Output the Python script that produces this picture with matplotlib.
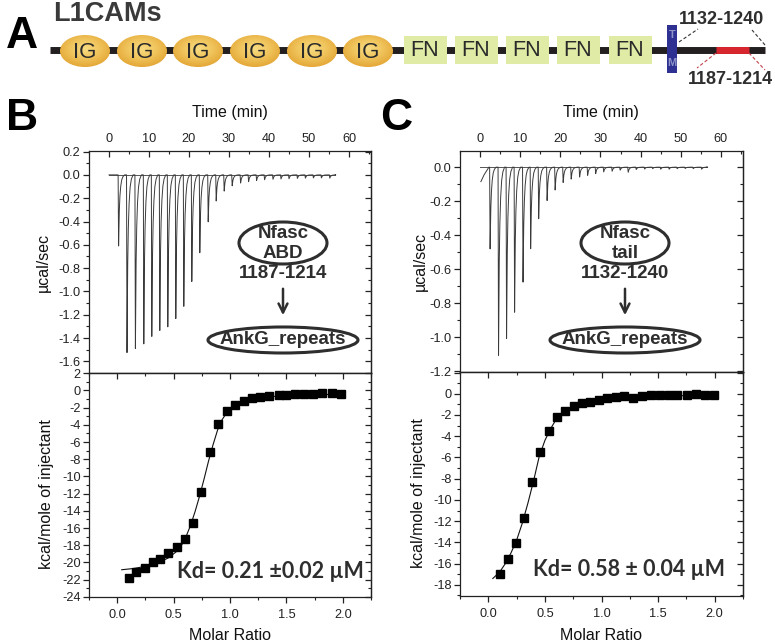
import numpy as np
import matplotlib
matplotlib.use('Agg')
import matplotlib.pyplot as plt
from matplotlib.patches import Ellipse, Rectangle
from matplotlib.ticker import MultipleLocator, FuncFormatter
from matplotlib.colors import LinearSegmentedColormap

plt.rcParams['font.family'] = ['Liberation Sans', 'DejaVu Sans']
plt.rcParams['axes.unicode_minus'] = False

# ---------------- DATA ----------------
# Panel B raw thermogram: injection times (min) and peak minima (ucal/sec)
b_inj_time = [2.4, 4.5, 6.6, 8.7, 10.7, 12.7, 14.7, 16.7, 18.7, 20.7, 22.7, 24.8, 26.8,
              28.8, 30.8, 32.9, 34.9, 36.9, 38.9, 41.0, 43.0, 45.0, 47.1, 49.1, 51.1, 53.1, 55.2]
b_inj_depth = [-0.61, -1.525, -1.49, -1.45, -1.386, -1.335, -1.304, -1.233, -1.128, -0.915,
               -0.668, -0.403, -0.224, -0.139, -0.094, -0.07, -0.058, -0.048, -0.042, -0.038,
               -0.035, -0.033, -0.03, -0.028, -0.026, -0.026, -0.028]
b_trace_start = [0.0]
b_trace_start_y = [0.0]
b_trace_end = 56.6

# Panel C raw thermogram
c_inj_time = [2.5, 4.6, 6.6, 8.6, 10.7, 12.6, 14.6, 16.7, 18.7, 20.7, 22.7, 24.8, 26.8,
              28.8, 30.8, 32.9, 34.9, 36.9, 38.9, 41.0, 43.0, 45.0, 47.1, 49.1, 51.1, 53.1, 55.2]
c_inj_depth = [-0.48, -1.105, -1.006, -0.852, -0.675, -0.479, -0.303, -0.196, -0.134, -0.09,
               -0.07, -0.058, -0.048, -0.038, -0.028, -0.024, -0.018, -0.03, -0.014, -0.011,
               -0.009, -0.012, -0.012, -0.009, -0.008, -0.009, -0.012]
c_trace_start = [0.2, 1.0, 2.2]
c_trace_start_y = [-0.085, -0.045, 0.0]
c_trace_end = 56.4

# shape of one injection peak: time offset (min) vs fraction of depth
peak_rel_t = [-0.12, 0.0, 0.08, 0.18, 0.33, 0.53, 0.78, 1.08, 1.5]
peak_frac = [0.0, 1.0, 0.75, 0.5, 0.3, 0.16, 0.07, 0.025, 0.0]

# Panel B isotherm
b_ratio = [0.103, 0.171, 0.245, 0.313, 0.378, 0.449, 0.529, 0.603, 0.674, 0.747, 0.824, 0.895,
           0.972, 1.046, 1.12, 1.196, 1.27, 1.35, 1.43, 1.50, 1.58, 1.66, 1.74, 1.82, 1.90, 1.98]
b_heat = [-21.86, -21.1, -20.7, -20.0, -19.6, -18.9, -18.2, -17.3, -15.4, -11.8, -7.2, -3.9,
          -2.4, -1.7, -1.2, -0.93, -0.74, -0.62, -0.55, -0.5, -0.47, -0.43, -0.39, -0.35, -0.35, -0.39]
b_fit_x = [0.04, 0.15, 0.25, 0.35, 0.45, 0.52, 0.57, 0.61, 0.65, 0.69, 0.73, 0.77, 0.81, 0.85,
           0.89, 0.93, 0.97, 1.02, 1.08, 1.15, 1.25, 1.4, 1.6, 1.8, 2.0]
b_fit_y = [-20.85, -20.7, -20.45, -20.1, -19.5, -18.8, -18.0, -17.0, -15.7, -14.1, -12.3, -10.3,
           -8.2, -6.3, -4.6, -3.4, -2.6, -2.0, -1.55, -1.2, -0.9, -0.68, -0.55, -0.48, -0.43]

# Panel C isotherm
c_ratio = [0.104, 0.175, 0.246, 0.317, 0.388, 0.459, 0.533, 0.604, 0.679, 0.753, 0.827, 0.901,
           0.975, 1.049, 1.126, 1.2, 1.28, 1.357, 1.434, 1.514, 1.594, 1.671, 1.751, 1.831, 1.911, 1.991]
c_heat = [-17.0, -15.58, -14.1, -11.69, -8.33, -5.47, -3.52, -2.23, -1.63, -1.13, -0.91, -0.75,
          -0.6, -0.41, -0.35, -0.25, -0.44, -0.19, -0.13, -0.09, -0.16, -0.16, -0.09, -0.06, -0.09, -0.16]
c_fit_x = [0.04, 0.1, 0.15, 0.2, 0.25, 0.3, 0.35, 0.4, 0.45, 0.5, 0.55, 0.6, 0.65, 0.7, 0.8,
           0.9, 1.0, 1.1, 1.25, 1.4, 1.6, 1.8, 2.0]
c_fit_y = [-17.4, -16.8, -16.0, -15.0, -13.8, -12.2, -10.3, -8.2, -5.9, -4.4, -3.3, -2.4, -1.85,
           -1.45, -1.0, -0.75, -0.58, -0.46, -0.35, -0.27, -0.2, -0.16, -0.13]

# Domain diagram labels
ig_labels = ['IG'] * 6
fn_labels = ['FN'] * 5

# ---------------- LAYOUT ----------------
W, H = 775, 643
fig = plt.figure(figsize=(W / 100, H / 100), dpi=100)


def rect(l, t, r, b):
    return [l / W, 1 - b / H, (r - l) / W, (b - t) / H]


axBt = fig.add_axes(rect(89, 151, 371, 373))
axBb = fig.add_axes(rect(89, 373, 371, 597))
axCt = fig.add_axes(rect(460, 151, 743, 372))
axCb = fig.add_axes(rect(460, 372, 743, 596))

TICKC = '#222222'
SPC = '#222222'


def fmt(d, vmax=None):
    def f(v, p):
        if vmax is not None and v > vmax + 1e-9:
            return ''
        return ('%.' + str(d) + 'f') % (0.0 if abs(v) < 1e-9 else v)
    return FuncFormatter(f)


def style(ax, xlim, ylim, xmaj, xmin, ymaj, ymin, xdec, ydec, top, ymaxlab=None):
    ax.set_xlim(*xlim)
    ax.set_ylim(*ylim)
    for s in ax.spines.values():
        s.set_linewidth(0.9)
        s.set_color(SPC)
    ax.xaxis.set_major_locator(MultipleLocator(xmaj))
    ax.xaxis.set_minor_locator(MultipleLocator(xmin))
    ax.yaxis.set_major_locator(MultipleLocator(ymaj))
    ax.yaxis.set_minor_locator(MultipleLocator(ymin))
    ax.xaxis.set_major_formatter(fmt(xdec))
    ax.yaxis.set_major_formatter(fmt(ydec, ymaxlab))
    ax.tick_params(axis='both', which='both', labelsize=9.2, labelcolor=TICKC, color=SPC)
    ax.tick_params(axis='y', which='both', left=True, right=False, direction='out', pad=1.5)
    ax.tick_params(axis='y', which='major', length=4.5, width=0.9)
    ax.tick_params(axis='y', which='minor', length=2.5, width=0.8)
    sy = ax.secondary_yaxis('right')
    sy.yaxis.set_major_locator(MultipleLocator(ymaj))
    sy.yaxis.set_minor_locator(MultipleLocator(ymin))
    sy.tick_params(which='both', direction='in', labelright=False, color=SPC)
    sy.tick_params(which='major', length=4, width=0.9)
    sy.tick_params(which='minor', length=2.2, width=0.8)
    sy.spines['right'].set_linewidth(0.9)
    sy.spines['right'].set_color(SPC)
    if top:
        ax.tick_params(axis='x', which='both', top=True, bottom=False, labeltop=True,
                       labelbottom=False, direction='in', pad=4)
        ax.tick_params(axis='x', which='major', length=4.5, width=0.9)
        ax.tick_params(axis='x', which='minor', length=2.5, width=0.8)
    else:
        ax.tick_params(axis='x', which='both', top=False, bottom=True, direction='out', pad=4)
        ax.tick_params(axis='x', which='major', length=4.5, width=0.9)
        ax.tick_params(axis='x', which='minor', length=2.5, width=0.8)
        sx = ax.secondary_xaxis('top')
        sx.xaxis.set_major_locator(MultipleLocator(xmaj))
        sx.xaxis.set_minor_locator(MultipleLocator(xmin))
        sx.tick_params(which='both', direction='in', labeltop=False, color=SPC)
        sx.tick_params(which='major', length=4.5, width=0.9)
        sx.tick_params(which='minor', length=2.5, width=0.8)
        sx.spines['top'].set_linewidth(0.9)
        sx.spines['top'].set_color(SPC)


def build_trace(t0, y0, times, depths, t_end):
    tx = list(t0)
    ty = list(y0)
    for t, d in zip(times, depths):
        for rt, f in zip(peak_rel_t, peak_frac):
            tx.append(t + rt)
            ty.append(d * f)
    tx.append(t_end)
    ty.append(0.0)
    return tx, ty


# Panel B top
style(axBt, (-5, 65.5), (-1.7, 0.205), 10, 5, 0.2, 0.1, 0, 1, True)
tx, ty = build_trace(b_trace_start, b_trace_start_y, b_inj_time, b_inj_depth, b_trace_end)
axBt.plot([0, b_trace_end], [0, 0], color='#555555', lw=0.7)
axBt.plot(tx, ty, color='#3a3a3a', lw=0.7)

# Panel B bottom
style(axBb, (-0.25, 2.25), (-24.02, 2.03), 0.5, 0.25, 2, 1, 1, 0, False)
axBb.plot(b_fit_x, b_fit_y, color='#111111', lw=0.8)
axBb.plot(b_ratio, b_heat, 's', color='black', ms=5.6)

# Panel C top
style(axCt, (-5, 65.5), (-1.203, 0.095), 10, 5, 0.2, 0.1, 0, 1, True)
tx, ty = build_trace(c_trace_start, c_trace_start_y, c_inj_time, c_inj_depth, c_trace_end)
axCt.plot([0, c_trace_end], [0, 0], color='#555555', lw=0.7)
axCt.plot(tx, ty, color='#3a3a3a', lw=0.7)

# Panel C bottom ("2" label hidden under the "-1.2" label in the reference)
style(axCb, (-0.25, 2.25), (-19.05, 2.05), 0.5, 0.25, 2, 1, 1, 0, False, ymaxlab=0)
axCb.plot(c_fit_x, c_fit_y, color='#111111', lw=0.8)
axCb.plot(c_ratio, c_heat, 's', color='black', ms=5.6)

# ---------------- OVERLAY (pixel coordinates) ----------------
ov = fig.add_axes([0, 0, 1, 1])
ov.set_xlim(0, W)
ov.set_ylim(H, 0)
ov.axis('off')
ov.patch.set_alpha(0)
ov.set_zorder(10)

DK = '#2e2e2e'
# axis labels
for x in (230, 601):
    ov.text(x, 112, 'Time (min)', ha='center', va='center', fontsize=11.5, color='#111111')
    ov.text(x, 635, 'Molar Ratio', ha='center', va='center', fontsize=11.5, color='#111111')
ov.text(43, 262, 'µcal/sec', ha='center', va='center', rotation=90, fontsize=11.5, color='#111111')
ov.text(420, 261, 'µcal/sec', ha='center', va='center', rotation=90, fontsize=11.5, color='#111111')
ov.text(47, 494, 'kcal/mole of injectant', ha='center', va='center', rotation=90, fontsize=11.5, color='#111111')
ov.text(418, 493, 'kcal/mole of injectant', ha='center', va='center', rotation=90, fontsize=11.5, color='#111111')

# panel letters
for (x, y, s) in [(22, 37, 'A'), (22, 118, 'B'), (396, 118, 'C')]:
    ov.text(x, y, s, ha='center', va='center', fontsize=32, fontweight='bold', color='black')

ov.text(53, 14, 'L1CAMs', ha='left', va='center', fontsize=19.5, fontweight='bold', color='#3a3a3a')

# domain diagram
LINEY = 50
ov.plot([50, 765], [LINEY, LINEY], color='#231f20', lw=5, solid_capstyle='butt', zorder=1)
ov.plot([716, 749], [LINEY, LINEY], color='#d7262e', lw=5, solid_capstyle='butt', zorder=2)

ig_cmap = LinearSegmentedColormap.from_list('ig', ['#f8dc82', '#f0c45c', '#e3a534'])
yy, xx = np.mgrid[-1:1:60j, -1:1:90j]
grad = np.sqrt(xx ** 2 + (yy + 0.15) ** 2)
for cx, lab in zip([85, 142, 198, 255, 312, 368], ig_labels):
    e = Ellipse((cx, 51), 50, 32, facecolor='none', edgecolor='none')
    ov.add_patch(e)
    im = ov.imshow(grad, extent=[cx - 25, cx + 25, 67, 35], cmap=ig_cmap, vmin=0, vmax=1.2,
                   aspect='auto', zorder=3, interpolation='bilinear')
    im.set_clip_path(e)
    ov.text(cx, 52, lab, ha='center', va='center', fontsize=16, color='#2a2a2a', zorder=4)

for cx, lab in zip([425, 476, 527, 578, 630], fn_labels):
    ov.add_patch(Rectangle((cx - 21.5, 36), 43, 28, facecolor='#e0eba6', edgecolor='none', zorder=3))
    ov.text(cx, 51, lab, ha='center', va='center', fontsize=15.5, color='#2a2a2a', zorder=4)

ov.add_patch(Rectangle((667, 25), 10, 48, facecolor='#2e3192', edgecolor='none', zorder=3))
ov.text(672, 35, 'T', ha='center', va='center', fontsize=8, fontweight='bold', color='#8f95c8', zorder=4)
ov.text(672, 63, 'M', ha='center', va='center', fontsize=8, fontweight='bold', color='#8f95c8', zorder=4)

ov.set_xlim(0, W)
ov.set_ylim(H, 0)

ov.text(722, 20, '1132-1240', ha='center', va='center', fontsize=13, fontweight='bold', color=DK)
ov.text(730, 79, '1187-1214', ha='center', va='center', fontsize=13, fontweight='bold', color=DK)
ov.plot([679, 698], [42, 29], ls=(0, (3, 2)), color='#333333', lw=0.8)
ov.plot([765, 752], [45, 30], ls=(0, (3, 2)), color='#333333', lw=0.8)
ov.plot([716, 697], [53, 68], ls=(0, (3, 2)), color='#c0404a', lw=0.8)
ov.plot([749, 765], [53, 70], ls=(0, (3, 2)), color='#c0404a', lw=0.8)

# annotation ellipses in B and C
for (cx, top_lines, mid) in [(283, ('Nfasc', 'ABD'), '1187-1214'), (625, ('Nfasc', 'tail'), '1132-1240')]:
    ov.add_patch(Ellipse((cx, 243), 88, 42, facecolor='none', edgecolor=DK, lw=2.2))
    ov.text(cx, 234, top_lines[0], ha='center', va='center', fontsize=13.5, fontweight='bold', color=DK)
    ov.text(cx, 253, top_lines[1], ha='center', va='center', fontsize=13.5, fontweight='bold', color=DK)
    ov.text(cx, 273, mid, ha='center', va='center', fontsize=13.5, fontweight='bold', color=DK)
    ov.annotate('', xy=(cx, 318), xytext=(cx, 286),
                arrowprops=dict(arrowstyle='->', color=DK, lw=1.8, mutation_scale=16))
    ov.add_patch(Ellipse((cx, 340), 150, 26, facecolor='none', edgecolor=DK, lw=2.2))
    ov.text(cx, 339, 'AnkG_repeats', ha='center', va='center', fontsize=13.5, fontweight='bold', color=DK)

# Kd texts
ov.text(270, 571, 'Kd= 0.21 ±0.02 µM', ha='center', va='center', fontsize=15.5, fontweight='bold',
        color=DK, family=['Lato', 'DejaVu Sans'])
ov.text(629, 570, 'Kd= 0.58 ± 0.04 µM', ha='center', va='center', fontsize=15.5, fontweight='bold',
        color=DK, family=['Lato', 'DejaVu Sans'])

fig.savefig('out.png', dpi=100)
